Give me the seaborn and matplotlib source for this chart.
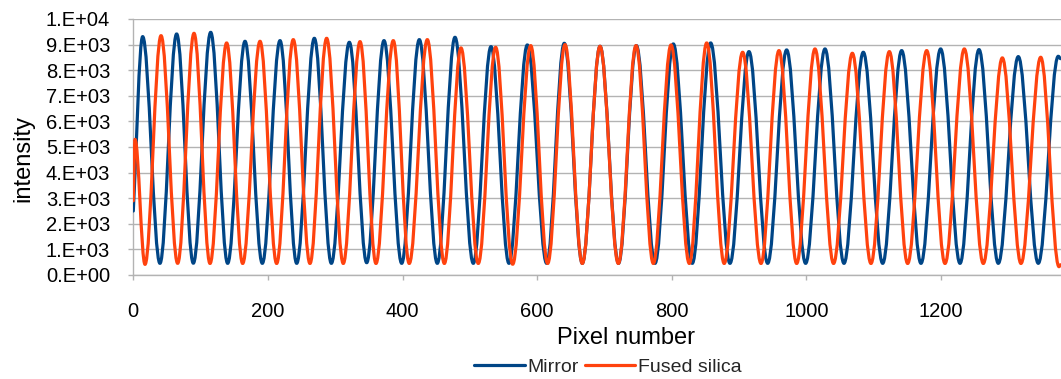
import numpy as np
import pandas as pd
import matplotlib
matplotlib.use("Agg")
import matplotlib.pyplot as plt
from matplotlib.path import Path
from matplotlib.patches import PathPatch
from matplotlib.lines import Line2D
from matplotlib.ticker import FuncFormatter, MultipleLocator
import seaborn as sns

# ---- data (turning points of each fringe pattern) ----
mirror_x = [0, 13.9, 39.6, 64.4, 89.2, 115.0, 140.2, 166.0, 191.7, 218.0, 242.8,
            269.0, 294.3, 321.0, 346.8, 372.5, 398.8, 425.0, 451.7, 478.0, 505.2,
            531.5, 558.2, 585.5, 614.2, 640.4, 667.2, 693.5, 721.0, 747.5, 775.2,
            802.4, 830.6, 857.9, 886.6, 914.8, 942.6, 970.8, 999.0, 1027.8, 1056.0,
            1084.7, 1113.5, 1141.7, 1170.4, 1199.6, 1228.4, 1256.6, 1285.3, 1315.0,
            1344.7, 1374.4, 1378]
mirror_y = [2500, 9312, 455, 9416, 460, 9480, 455, 9130, 455, 9156, 455,
            9247, 455, 9091, 480, 9156, 455, 9195, 455, 9286, 455,
            8922, 455, 8987, 455, 9052, 455, 8935, 455, 8961, 455,
            9026, 455, 9065, 455, 8727, 455, 8792, 455, 8831, 455,
            8701, 455, 8766, 455, 8831, 455, 8805, 455, 8532,
            455, 8545, 8450]

silica_x = [0, 2.5, 17.4, 41.2, 65.9, 90.2, 114.0, 138.7, 162.5, 188.3, 213.0,
            237.7, 262.5, 287.3, 312.0, 336.9, 360.6, 386.3, 410.0, 436.9, 462.2,
            486.9, 512.6, 538.4, 563.7, 590.5, 615.7, 641.5, 667.2, 693.5, 720.7,
            747.0, 772.7, 799.0, 826.2, 852.0, 878.0, 905.4, 932.7, 959.4, 985.7,
            1012.9, 1040.5, 1068.4, 1096.1, 1123.4, 1150.6, 1178.9, 1206.1, 1234.8,
            1263.0, 1291.3, 1319.0, 1348.3, 1375.5, 1378]
silica_y = [2900, 5300, 415, 9350, 455, 9441, 450, 9065, 450, 9130, 450,
            9195, 450, 9247, 450, 9117, 450, 9156, 450, 9195, 450,
            8870, 450, 8896, 420, 8961, 450, 9000, 450, 8935, 450,
            8961, 450, 8987, 450, 9065, 450, 8701, 450, 8766, 450,
            8831, 450, 8662, 450, 8727, 450, 8766, 450, 8831,
            450, 8481, 450, 8506, 325, 400]

series_names = ["Mirror", "Fused silica"]
series_colors = ["#004586", "#ff420e"]
x_ticks = [0, 200, 400, 600, 800, 1000, 1200]
x_label = "Pixel number"
y_label = "intensity"

# ---- styling ----
sns.set_theme(style="white")
plt.rcParams["font.family"] = ["Liberation Sans", "DejaVu Sans"]

df = pd.concat([
    pd.DataFrame({"Pixel": mirror_x, "intensity": mirror_y, "series": series_names[0]}),
    pd.DataFrame({"Pixel": silica_x, "intensity": silica_y, "series": series_names[1]}),
], ignore_index=True)

fig = plt.figure(figsize=(10.61, 3.79), dpi=100)
ax = fig.add_axes([133.3 / 1061, 104 / 379, 1 - 133.3 / 1061, 256 / 379])

sns.lineplot(data=df, x="Pixel", y="intensity", hue="series",
             hue_order=series_names, palette=series_colors,
             estimator=None, sort=False, legend=False, ax=ax)

# draw each series as a smooth curve through its turning points
K = 0.3634
for line, color in zip(list(ax.lines), series_colors):
    xy = line.get_xydata()
    line.remove()
    verts = [tuple(xy[0])]
    codes = [Path.MOVETO]
    for i in range(len(xy) - 1):
        x0, y0 = xy[i]
        x1, y1 = xy[i + 1]
        dx = x1 - x0
        if i == 0:
            c1 = (x0 + dx / 3, y0 + (y1 - y0) / 3)
        else:
            c1 = (x0 + K * dx, y0)
        c2 = (x1 - K * dx, y1)
        verts += [c1, c2, (x1, y1)]
        codes += [Path.CURVE4] * 3
    ax.add_patch(PathPatch(Path(verts, codes), fill=False, edgecolor=color,
                           linewidth=2.3, capstyle="round", joinstyle="round",
                           zorder=3))

ax.set_xlim(0, (1061 - 133.3) / 0.673)
ax.set_ylim(0, 10000)
ax.set_xticks(x_ticks)
ax.yaxis.set_major_locator(MultipleLocator(1000))
ax.yaxis.set_major_formatter(FuncFormatter(lambda v, p: format(v, "#.0E")))

ax.grid(axis="y", color="#b3b3b3", linewidth=1.0)
ax.grid(axis="x", visible=False)
ax.set_axisbelow(True)
for s in ["top", "right"]:
    ax.spines[s].set_visible(False)
for s in ["left", "bottom"]:
    ax.spines[s].set_color("#b3b3b3")
    ax.spines[s].set_linewidth(1.0)

ax.tick_params(axis="x", direction="out", length=3.6, width=1, color="#b3b3b3",
               labelsize=14.5, labelcolor="black", pad=16, bottom=True)
ax.tick_params(axis="y", direction="out", length=3.6, width=1, color="#b3b3b3",
               labelsize=14.5, labelcolor="black", pad=13, left=True)

ax.set_xlabel(x_label, fontsize=17, color="black")
ax.set_ylabel(y_label, fontsize=17, color="black")
ax.xaxis.set_label_coords((626 - 133.3) / (1061 - 133.3), (275 - 327) / 256)
ax.yaxis.set_label_coords((34 - 133.3) / (1061 - 133.3), (275 - 158) / 256)

handles = [Line2D([], [], color=c, linewidth=2.3) for c in series_colors]
fig.legend(handles, series_names, loc="center", ncol=2, frameon=False,
           bbox_to_anchor=(608 / 1061, 1 - 367 / 379), fontsize=14,
           handlelength=2.6, handletextpad=0.15, columnspacing=0.3,
           borderaxespad=0, borderpad=0)

fig.savefig("out.png", dpi=100)
